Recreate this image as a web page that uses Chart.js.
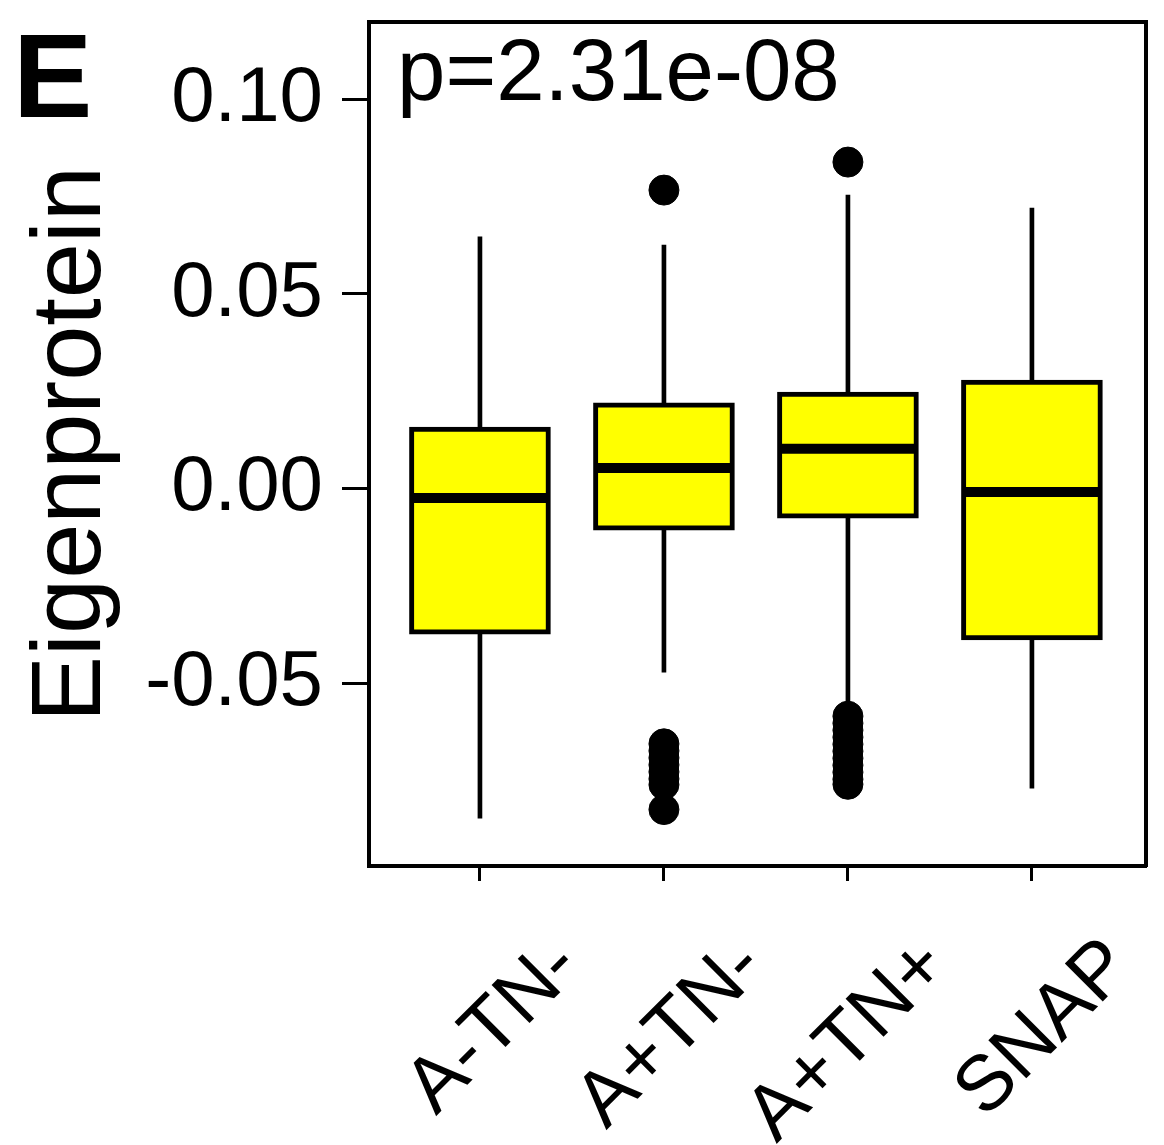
<!DOCTYPE html>
<html><head><meta charset="utf-8">
<script src="https://cdn.jsdelivr.net/npm/chart.js@4.4.1/dist/chart.umd.min.js"></script>
<style>html,body{margin:0;padding:0;background:#fff;} canvas{display:block;}</style>
</head><body>
<canvas id="c" width="1164" height="1145"></canvas>
<script>
const categories = ['A-TN-', 'A+TN-', 'A+TN+', 'SNAP'];
const whiskerLow  = [-0.0847, -0.0472, -0.0551, -0.0770];
const q1          = [-0.0374, -0.0107, -0.0076, -0.0389];
const medians     = [-0.0024,  0.0053,  0.0102, -0.0009];
const q3          = [ 0.0158,  0.0220,  0.0248,  0.0279];
const whiskerHigh = [ 0.0647,  0.0626,  0.0754,  0.0721];
const outliersATNminus  = [];
const outliersApTNminus = [0.0767, -0.0656, -0.0674, -0.0692, -0.0710, -0.0728, -0.0746, -0.0761, -0.0825];
const outliersApTNplus  = [0.0839, -0.0585, -0.0603, -0.0621, -0.0639, -0.0657, -0.0675, -0.0693, -0.0711, -0.0729, -0.0747, -0.0760];
const outliersSNAP      = [];
const yTicks = [-0.05, 0, 0.05, 0.10];
const yTitle = 'Eigenprotein';
const pValueText = 'p=2.31e-08';
const panelLetter = 'E';

const FONT = "'Liberation Sans', Arial, Helvetica, sans-serif";
const pos = categories.map((c, i) => i + 1);
const outlierGroups = [outliersATNminus, outliersApTNminus, outliersApTNplus, outliersSNAP];
const outlierData = [];
outlierGroups.forEach((g, i) => g.forEach(v => outlierData.push({x: pos[i], y: v})));

function zeroPad(s) { s.paddingLeft = 0; s.paddingRight = 0; s.paddingTop = 0; s.paddingBottom = 0; }

const annotations = {
  id: 'annotations',
  afterDraw(chart) {
    const ctx = chart.ctx, a = chart.chartArea;
    ctx.save();
    ctx.fillStyle = '#000';
    ctx.textBaseline = 'alphabetic';
    ctx.textAlign = 'left';
    ctx.font = 'bold 119px ' + FONT;
    ctx.fillText(panelLetter, 13, 117);
    ctx.font = '87px ' + FONT;
    ctx.fillText(pValueText, a.left + 28, 100);
    ctx.restore();
  }
};

new Chart(document.getElementById('c'), {
  type: 'bar',
  data: {
    datasets: [
      {
        type: 'scatter', label: 'outliers', order: 0,
        data: outlierData,
        pointStyle: 'circle', pointRadius: 15, pointBorderWidth: 1,
        pointBackgroundColor: '#000', pointBorderColor: '#000', pointHoverRadius: 15
      },
      {
        type: 'scatter', label: 'median', order: 0,
        data: pos.map((x, i) => ({x, y: medians[i]})),
        pointStyle: 'line', pointRadius: 68, pointHoverRadius: 68,
        pointBorderWidth: 10, pointHoverBorderWidth: 10, borderColor: '#000', pointBorderColor: '#000'
      },
      {
        label: 'box', order: 1, grouped: false,
        data: pos.map((x, i) => ({x, y: [q1[i], q3[i]]})),
        backgroundColor: '#FFFF00', borderColor: '#000', borderWidth: 5,
        borderSkipped: false, barThickness: 141
      },
      {
        label: 'whisker', order: 2, grouped: false,
        data: pos.map((x, i) => ({x, y: [whiskerLow[i], whiskerHigh[i]]})),
        backgroundColor: '#000', borderWidth: 0, barThickness: 4
      }
    ]
  },
  options: {
    responsive: false,
    devicePixelRatio: 1,
    animation: false,
    layout: {autoPadding: false, padding: {left: 0, right: 18, top: 22, bottom: 0}},
    plugins: {legend: {display: false}, tooltip: {enabled: false}},
    scales: {
      x: {
        type: 'linear', position: 'bottom', offset: false,
        min: 0.397, max: 4.62,
        afterBuildTicks: s => { s.ticks = pos.map(v => ({value: v})); },
        afterFit: s => { s.height = 279; zeroPad(s); },
        grid: {offset: false, drawOnChartArea: false, drawTicks: true, tickLength: 15, tickWidth: 3, tickColor: '#000'},
        border: {display: true, color: '#000', width: 4},
        ticks: {
          autoSkip: false, minRotation: 45, maxRotation: 45,
          labelOffset: 88, padding: 40,
          color: '#000', font: {family: FONT, size: 78},
          callback: v => categories[v - 1]
        }
      },
      y: {
        type: 'linear', position: 'left',
        min: -0.097, max: 0.1199,
        afterBuildTicks: s => { s.ticks = yTicks.map(v => ({value: v})); },
        afterFit: s => { s.width = 369; zeroPad(s); },
        grid: {drawOnChartArea: false, drawTicks: true, tickLength: 27, tickWidth: 3, tickColor: '#000'},
        border: {display: true, color: '#000', width: 4},
        ticks: {
          padding: 19, color: '#000', font: {family: FONT, size: 78},
          callback: v => v.toFixed(2)
        },
        title: {
          display: true, text: yTitle, color: '#000',
          font: {family: FONT, size: 99}, padding: {top: 13, bottom: 0}
        }
      },
      y2: {
        type: 'linear', position: 'right',
        afterFit: s => { s.width = 0; zeroPad(s); },
        grid: {drawOnChartArea: false, drawTicks: false},
        border: {display: true, color: '#000', width: 4},
        ticks: {display: false}
      },
      x2: {
        type: 'linear', position: 'top', offset: false,
        afterFit: s => { s.height = 0; zeroPad(s); },
        grid: {offset: false, drawOnChartArea: false, drawTicks: false},
        border: {display: true, color: '#000', width: 4},
        ticks: {display: false}
      }
    }
  },
  plugins: [annotations]
});
</script>
</body></html>
